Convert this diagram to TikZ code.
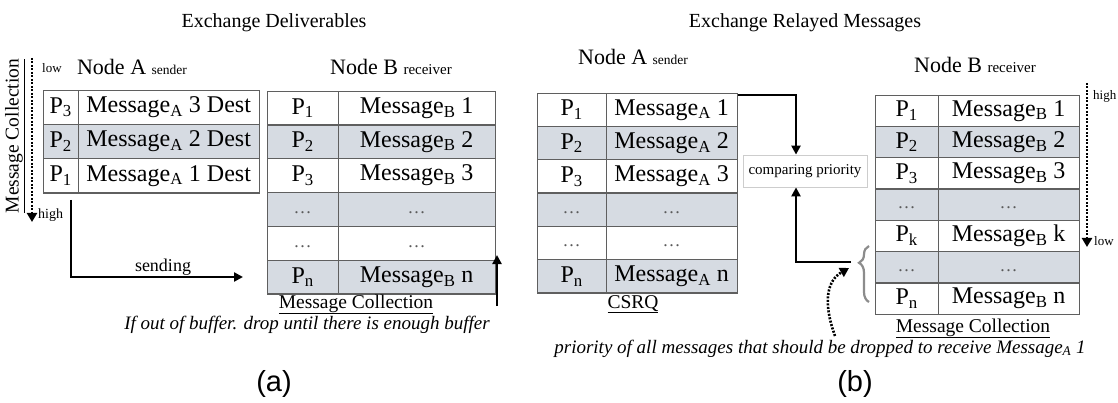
\documentclass[tikz,border=0pt]{standalone}
\usepackage{fontspec}
\setmainfont{Liberation Serif}
\newfontfamily\capsans{Liberation Sans}
\usetikzlibrary{matrix,arrows.meta,decorations.pathreplacing}

\definecolor{rowgray}{RGB}{214,219,226}
\definecolor{rulegray}{RGB}{95,95,95}
\definecolor{boxgray}{RGB}{205,205,205}
\definecolor{bracegray}{RGB}{140,140,140}
\definecolor{dotgray}{RGB}{90,90,90}

\newcommand{\fs}[1]{\fontsize{#1}{#1}\selectfont}
\newcommand{\dotcell}{{\color{dotgray}\fs{18}\vphantom{Mg}\ldots}}

\tikzset{
  tbl/.style={matrix of nodes, nodes in empty cells, anchor=north west,
    column sep=-1.2pt, row sep=-1.2pt,
    nodes={draw=rulegray, line width=1.2pt, inner sep=0pt, font=\fs{24}, anchor=center}},
  shaded/.style={nodes={fill=rowgray}},
  lbl/.style={inner sep=0pt, anchor=base},
  flow/.style={line width=2.4pt, -{Triangle[width=9pt,length=9pt]}},
  dotarrow/.style={line width=2.6pt, dash pattern=on 2pt off 1.5pt,
    -{Triangle[width=10pt,length=9pt]}},
}

\begin{document}
\begin{tikzpicture}[x=1pt,y=-1pt]
\fill[white] (0,0) rectangle (1118,403);
\useasboundingbox (0,0) rectangle (1118,403);

% ---------- titles ----------
\node[lbl, font=\fs{20}] (titleA) at (274,28) {Exchange Deliverables};
\node[lbl, font=\fs{20}] (titleB) at (805,28) {Exchange Relayed Messages};

% ================= (a) =================
\node[lbl] (hdrAa) at (132,75) {\fs{22}Node A \fs{13.5}sender};
\node[lbl] (hdrBa) at (391,75) {\fs{22}Node B \fs{15}receiver};

% sender queue, low priority on top
\matrix (tAa) [tbl, column 1/.style={nodes={minimum width=35}},
  column 2/.style={nodes={minimum width=181}}, nodes={minimum height=34.3},
  row 2/.style={shaded}] at (39,86) {
  P\textsubscript{3} & Message\textsubscript{A} 3 Dest \\
  P\textsubscript{2} & Message\textsubscript{A} 2 Dest \\
  P\textsubscript{1} & Message\textsubscript{A} 1 Dest \\
};

% receiver buffer
\matrix (tBa) [tbl, column 1/.style={nodes={minimum width=71}},
  column 2/.style={nodes={minimum width=157}}, nodes={minimum height=33.8},
  row 2/.style={shaded}, row 4/.style={shaded}, row 6/.style={shaded}] at (263,87) {
  P\textsubscript{1} & Message\textsubscript{B} 1 \\
  P\textsubscript{2} & Message\textsubscript{B} 2 \\
  P\textsubscript{3} & Message\textsubscript{B} 3 \\
  \dotcell & \dotcell \\
  \dotcell & \dotcell \\
  P\textsubscript{n} & Message\textsubscript{B} n \\
};

% priority order of the sender queue
\coordinate (da1) at (32,58);
\coordinate (da2) at (32,222);
\draw[dotarrow] (da1) -- (da2);
\node[lbl, anchor=base west, font=\fs{13}] (lowa) at (42,73) {low};
\node[lbl, anchor=base west, font=\fs{14}] (higha) at (38,219) {high};
\node[rotate=90, inner sep=0pt, font=\fs{19.5}] (mcv) at (15,136) {\underline{Message Collection}};

% sending
\coordinate (s0) at (71,200);
\coordinate (s2) at (243,277);
\draw[flow] (s0) |- (s2);
\node[lbl, font=\fs{18}] (sendlbl) at (163,272) {sending};

\node[lbl, font=\fs{19.5}] (mca) at (356,308) {\underline{Message Collection}};
\coordinate (u0) at (497,306);
\coordinate (u1) at (497,255);
\draw[flow] (u0) -- (u1);
\node[lbl, font=\fs{19}\itshape] (dropa) at (307,329) {If out of buffer. drop until there is enough buffer};

\node[lbl, font=\capsans\fs{29}] (capa) at (274,391) {(a)};

% ================= (b) =================
\node[lbl] (hdrAb) at (633,65) {\fs{22}Node A \fs{13.5}sender};
\node[lbl] (hdrBb) at (975,73) {\fs{22}Node B \fs{15}receiver};

\matrix (tAb) [tbl, column 1/.style={nodes={minimum width=69}},
  column 2/.style={nodes={minimum width=131}}, nodes={minimum height=33.3},
  row 2/.style={shaded}, row 4/.style={shaded}, row 6/.style={shaded}] at (533,89) {
  P\textsubscript{1} & Message\textsubscript{A} 1 \\
  P\textsubscript{2} & Message\textsubscript{A} 2 \\
  P\textsubscript{3} & Message\textsubscript{A} 3 \\
  \dotcell & \dotcell \\
  \dotcell & \dotcell \\
  P\textsubscript{n} & Message\textsubscript{A} n \\
};
\node[lbl, font=\fs{19.5}] (csrq) at (633,308) {\underline{CSRQ}};

\matrix (tBb) [tbl, column 1/.style={nodes={minimum width=63}},
  column 2/.style={nodes={minimum width=141}}, nodes={minimum height=31.3},
  row 2/.style={shaded}, row 4/.style={shaded}, row 6/.style={shaded}] at (871,91) {
  P\textsubscript{1} & Message\textsubscript{B} 1 \\
  P\textsubscript{2} & Message\textsubscript{B} 2 \\
  P\textsubscript{3} & Message\textsubscript{B} 3 \\
  \dotcell & \dotcell \\
  P\textsubscript{k} & Message\textsubscript{B} k \\
  \dotcell & \dotcell \\
  P\textsubscript{n} & Message\textsubscript{B} n \\
};
\node[lbl, font=\fs{19.5}] (mcb) at (973,332) {\underline{Message Collection}};

% comparison of priorities
\node[draw=boxgray, line width=0.8pt, minimum width=124, minimum height=32,
  inner sep=0pt, font=\fs{15}] (cmp) at (805,171) {comparing priority};
\coordinate (ax) at (796,0);
\coordinate (c1) at (738,95);
\draw[flow] (c1) -| (cmp.north -| ax);
\coordinate (r0) at (851,262);
\draw[flow] (r0) -| (cmp.south -| ax);

% messages that would have to be dropped
\draw[bracegray, line width=2.2pt, decorate,
  decoration={brace, amplitude=10pt, aspect=0.7}] (869,302) -- (869,246);
\coordinate (q0) at (835,336);
\coordinate (q1) at (849,268);
\draw[dotarrow] (q0) .. controls (822,300) and (828,280) .. (q1);
\node[lbl, font=\fs{19}\itshape] (dropb) at (820,353)
  {priority of all messages that should be dropped to receive Message\textsubscript{A} 1};

% priority order of the receiver buffer
\coordinate (db1) at (1087,83);
\coordinate (db2) at (1087,247);
\draw[dotarrow] (db1) -- (db2);
\node[lbl, anchor=base west, font=\fs{13}] (highb) at (1093,100) {high};
\node[lbl, anchor=base west, font=\fs{13}] (lowb) at (1094,246) {low};

\node[lbl, font=\capsans\fs{29}] (capb) at (855,391) {(b)};
\end{tikzpicture}
\end{document}
